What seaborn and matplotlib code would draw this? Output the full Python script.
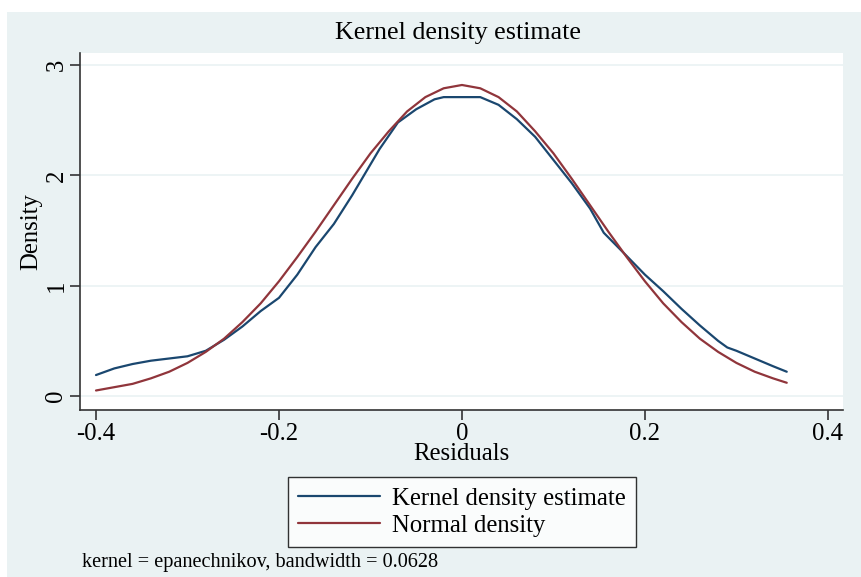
import pandas as pd
import numpy as np
import matplotlib.pyplot as plt
import seaborn as sns

# Datos
kde_x = [-0.40, -0.38, -0.36, -0.34, -0.32, -0.30, -0.28, -0.26, -0.24, -0.22,
         -0.20, -0.18, -0.16, -0.14, -0.12, -0.10, -0.09, -0.07, -0.05, -0.03,
         -0.02, 0.02, 0.04, 0.06, 0.08, 0.10, 0.12, 0.14, 0.155, 0.18,
         0.20, 0.22, 0.24, 0.26, 0.28, 0.29, 0.30, 0.32, 0.34, 0.355]
kde_y = [0.19, 0.25, 0.29, 0.32, 0.34, 0.36, 0.41, 0.51, 0.63, 0.77,
         0.89, 1.10, 1.35, 1.56, 1.82, 2.10, 2.24, 2.48, 2.60, 2.69,
         2.71, 2.71, 2.64, 2.51, 2.35, 2.14, 1.93, 1.70, 1.48, 1.27,
         1.10, 0.95, 0.79, 0.64, 0.50, 0.44, 0.41, 0.34, 0.27, 0.22]

normal_x = [-0.40, -0.38, -0.36, -0.34, -0.32, -0.30, -0.28, -0.26, -0.24, -0.22,
            -0.20, -0.18, -0.16, -0.14, -0.12, -0.10, -0.08, -0.06, -0.04, -0.02,
            0.00, 0.02, 0.04, 0.06, 0.08, 0.10, 0.12, 0.14, 0.16, 0.18,
            0.20, 0.22, 0.24, 0.26, 0.28, 0.30, 0.32, 0.34, 0.355]
normal_y = [0.05, 0.08, 0.11, 0.16, 0.22, 0.30, 0.40, 0.52, 0.67, 0.84,
            1.04, 1.26, 1.49, 1.73, 1.97, 2.20, 2.40, 2.58, 2.71, 2.79,
            2.82, 2.79, 2.71, 2.58, 2.40, 2.20, 1.97, 1.73, 1.49, 1.26,
            1.04, 0.84, 0.67, 0.52, 0.40, 0.30, 0.22, 0.16, 0.12]

series_names = ['Kernel density estimate', 'Normal density']
series_colors = ['#1A476F', '#90353B']
x_ticks = [-0.4, -0.2, 0, 0.2, 0.4]
x_labels = ['-0.4', '-0.2', '0', '0.2', '0.4']
y_ticks = [0, 1, 2, 3]

df = pd.concat([
    pd.DataFrame({'x': kde_x, 'y': kde_y, 'serie': series_names[0]}),
    pd.DataFrame({'x': normal_x, 'y': normal_y, 'serie': series_names[1]}),
], ignore_index = True)

sns.set_theme(style = 'white')
plt.rcParams['font.family'] = ['Liberation Serif', 'DejaVu Serif']
plt.rcParams['text.color'] = 'black'
plt.rcParams['axes.labelcolor'] = 'black'
plt.rcParams['xtick.color'] = 'black'
plt.rcParams['ytick.color'] = 'black'

bg = '#EAF2F3'
fig = plt.figure(figsize = (8.62, 5.77), dpi = 100, facecolor = 'white')
fig.patches.append(plt.Rectangle((7 / 862, 0), 1, 1 - 12 / 577, transform = fig.transFigure,
                                 facecolor = bg, edgecolor = 'none', zorder = -10))
ax = fig.add_axes([80 / 862, 167 / 577, 763 / 862, 357 / 577])
ax.set_facecolor('white')

sns.lineplot(data = df, x = 'x', y = 'y', hue = 'serie', palette = series_colors,
             sort = False, estimator = None, linewidth = 1.6, ax = ax, legend = False)

ax.set_xlim(-0.4175, 0.4165)
ax.set_ylim(-0.127, 3.11)
ax.set_xticks(x_ticks)
ax.set_xticklabels(x_labels, fontsize = 17.8)
ax.set_yticks(y_ticks)
ax.set_yticklabels([str(t) for t in y_ticks], fontsize = 17.8, rotation = 90, va = 'center')
for t in y_ticks:
    ax.axhline(t, color = bg, linewidth = 1.2, zorder = 0)

for s in ['top', 'right']:
    ax.spines[s].set_visible(False)
for s in ['left', 'bottom']:
    ax.spines[s].set_color('#333333')
    ax.spines[s].set_linewidth(1.2)
ax.tick_params(axis = 'both', direction = 'out', length = 7, width = 1.2, color = '#333333',
               left = True, bottom = True, pad = 2)

ax.set_xlabel('Residuals', fontsize = 17.8, labelpad = -1)
ax.set_ylabel('Density', fontsize = 17.8, labelpad = 2)
fig.text(458 / 862, 1 - 33 / 577, 'Kernel density estimate', fontsize = 18.7,
         ha = 'center', va = 'center')

handles = ax.get_lines()[:2]
leg = fig.legend(handles, series_names, loc = 'center', bbox_to_anchor = (462 / 862, 1 - 512 / 577),
                 fontsize = 17.8, frameon = True, fancybox = False, handlelength = 3.3,
                 borderpad = 0.4, labelspacing = 0.2, handletextpad = 0.5, borderaxespad = 0)
leg.get_frame().set_edgecolor('black')
leg.get_frame().set_linewidth(1.0)
leg.get_frame().set_facecolor('white')

fig.text(82 / 862, 1 - 563 / 577, 'kernel = epanechnikov, bandwidth = 0.0628', fontsize = 14.6,
         ha = 'left', va = 'center')

fig.savefig('out.png', dpi = 100, facecolor = fig.get_facecolor())
